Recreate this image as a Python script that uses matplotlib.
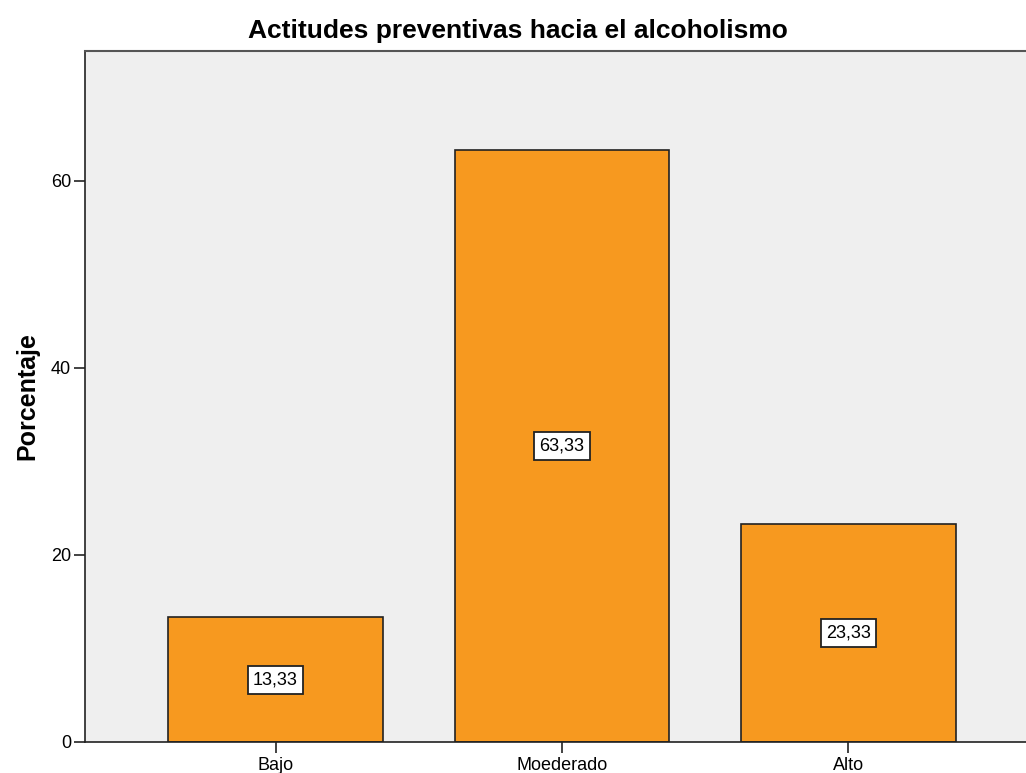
import matplotlib.pyplot as plt

categorias = ["Bajo", "Moederado", "Alto"]
porcentajes = [13.33, 63.33, 23.33]
etiquetas = ["13,33", "63,33", "23,33"]
yticks = [0, 20, 40, 60]

plt.rcParams['font.family'] = ['Liberation Sans', 'DejaVu Sans']

fig = plt.figure(figsize=(10.26, 7.73), dpi=100)
ax = fig.add_axes([85 / 1026, 31 / 773, (1039 - 85) / 1026, (742 - 51) / 773])
ax.set_facecolor('#efefef')

x = range(len(categorias))
ax.bar(x, porcentajes, width=0.75, color='#f7991f', edgecolor='#222222', linewidth=1.2)

for xi, v, t in zip(x, porcentajes, etiquetas):
    ax.text(xi, v / 2, t, ha='center', va='center', fontsize=13,
            bbox=dict(boxstyle='square,pad=0.3', fc='white', ec='#222222', lw=1.3))

ax.set_xlim(-0.665, 2.665)
ax.set_ylim(0, 73.9)
ax.set_xticks(list(x))
ax.set_xticklabels(categorias, fontsize=13)
ax.set_yticks(yticks)
ax.set_yticklabels([str(t) for t in yticks], fontsize=13)
ax.tick_params(axis='both', length=8, width=1.2, color='#222222')
ax.tick_params(axis='x', pad=3)
ax.tick_params(axis='y', pad=2)

for s in ['left', 'bottom']:
    ax.spines[s].set_color('#222222')
    ax.spines[s].set_linewidth(1.2)
ax.spines['top'].set_color('#555555')
ax.spines['top'].set_linewidth(1.5)
ax.spines['right'].set_visible(False)

ax.set_ylabel('Porcentaje', fontsize=18, fontweight='bold', labelpad=8)
fig.text(518 / 1026, 1 - 31 / 773, 'Actitudes preventivas hacia el alcoholismo',
         ha='center', va='center', fontsize=19, fontweight='bold')

fig.savefig('out.png', dpi=100)
